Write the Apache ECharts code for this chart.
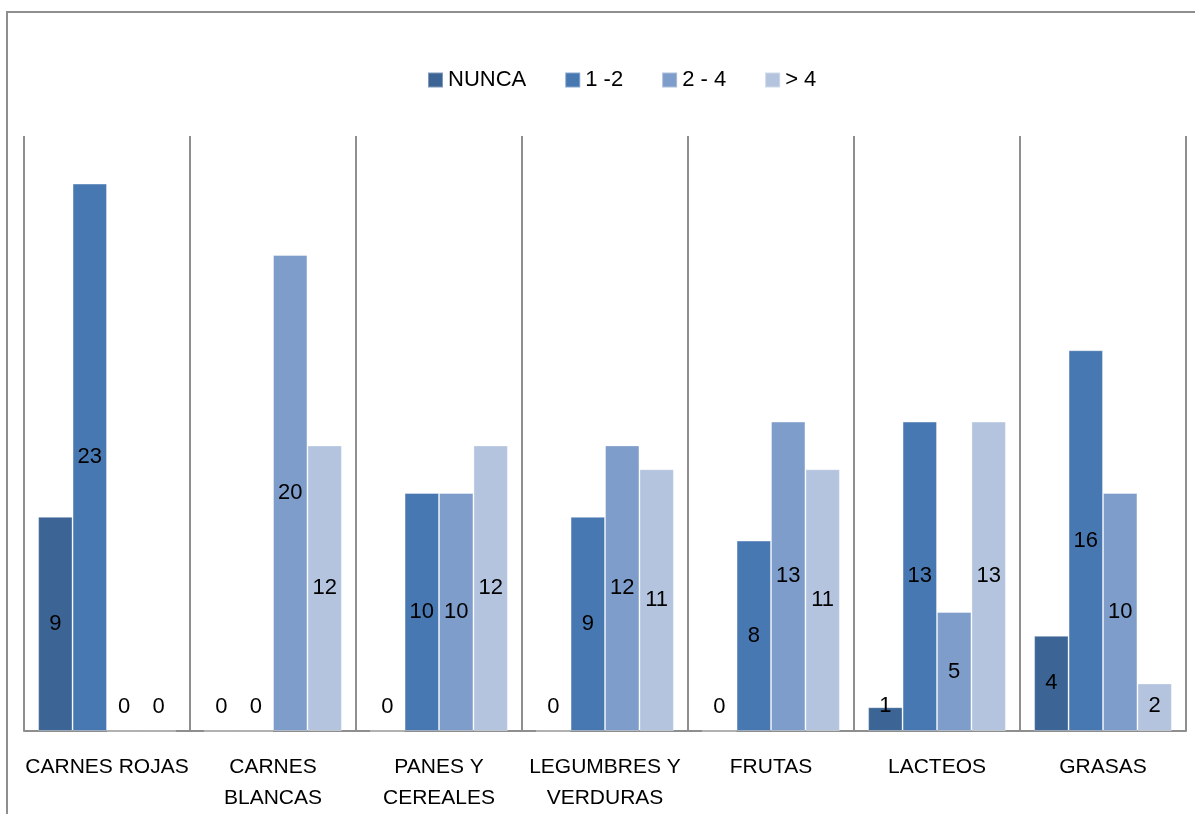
<!DOCTYPE html>
<html>
<head>
<meta charset="utf-8">
<script src="https://cdn.jsdelivr.net/npm/echarts@6/dist/echarts.min.js"></script>
<style>
  html, body { margin: 0; padding: 0; background: #fff; }
  #wrap { position: relative; width: 1195px; height: 814px; overflow: hidden; }
  #frame { position: absolute; left: 6px; top: 11px; width: 1300px; height: 900px;
           border-left: 2px solid #8e8e8e; border-top: 2px solid #8e8e8e; }
  #chart { position: absolute; left: 0; top: 0; width: 1195px; height: 814px; }
</style>
</head>
<body>
<div id="wrap">
  <div id="frame"></div>
  <div id="chart"></div>
</div>
<script>
// Food groups and consumption frequency counts
const categories = ['CARNES ROJAS', 'CARNES\nBLANCAS', 'PANES Y\nCEREALES', 'LEGUMBRES Y\nVERDURAS', 'FRUTAS', 'LACTEOS', 'GRASAS'];
const seriesNames = ['NUNCA', '1 -2', '2 - 4', '> 4'];
const nunca = [9, 0, 0, 0, 0, 1, 4];
const unoDos = [23, 0, 10, 9, 8, 13, 16];
const dosCuatro = [0, 20, 10, 12, 13, 5, 10];
const masCuatro = [0, 12, 12, 11, 11, 13, 2];
const colors = ['#3c6595', '#4878b1', '#7e9dca', '#b4c4df'];

const FONT = 'Liberation Sans, Arial, sans-serif';

// Small bars get their value label lifted to just above the axis
function items(values) {
  return values.map(v => v <= 2
    ? { value: v, label: { position: 'insideBottom', distance: 14 } }
    : { value: v });
}

const allValues = [nunca, unoDos, dosCuatro, masCuatro];

const chart = echarts.init(document.getElementById('chart'), null, { renderer: 'canvas' });
chart.setOption({
  animation: false,
  color: colors,
  legend: {
    top: 64,
    left: 422,
    itemWidth: 15,
    itemHeight: 15,
    itemGap: 38,
    icon: 'rect',
    textStyle: { fontFamily: FONT, fontSize: 22, color: '#000' },
    data: seriesNames
  },
  grid: { left: 24, right: 9, top: 136, bottom: 83, containLabel: false },
  xAxis: {
    type: 'category',
    data: categories,
    boundaryGap: true,
    axisLine: { lineStyle: { color: '#8e8e8e', width: 2 } },
    axisTick: { show: false },
    splitLine: { show: true, interval: 0, lineStyle: { color: '#8e8e8e', width: 2 } },
    axisLabel: {
      interval: 0,
      margin: 21,
      fontFamily: FONT,
      fontSize: 21,
      lineHeight: 31,
      color: '#000'
    }
  },
  yAxis: {
    type: 'value',
    min: 0,
    max: 25,
    show: false,
    splitLine: { show: false }
  },
  series: allValues.map((vals, i) => ({
    name: seriesNames[i],
    type: 'bar',
    barGap: '0%',
    barCategoryGap: '17%',
    data: items(vals),
    itemStyle: { color: colors[i], borderColor: 'rgba(255,255,255,0.35)', borderWidth: 1 },
    label: {
      show: true,
      position: 'inside',
      fontFamily: FONT,
      fontSize: 22,
      color: '#000'
    }
  }))
});
</script>
</body>
</html>
